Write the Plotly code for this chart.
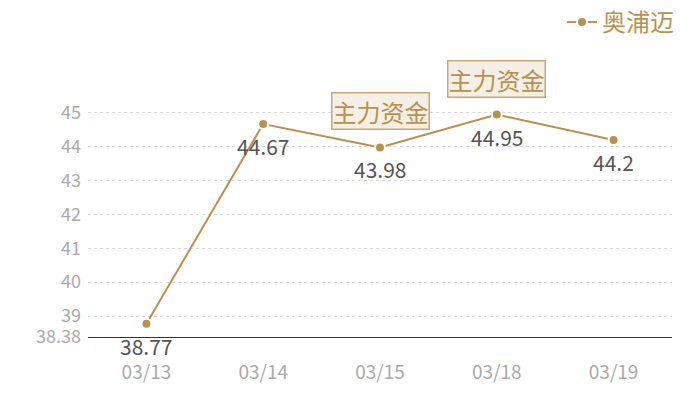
import plotly.graph_objects as go

dates = ["03/13", "03/14", "03/15", "03/18", "03/19"]
prices = [38.77, 44.67, 43.98, 44.95, 44.2]
flag_dates = ["03/15", "03/18"]
flag_text = "主力资金"
series_name = "奥浦迈"

y_min, y_max = 38.38, 45.38
y_ticks = [38.38, 39, 40, 41, 42, 43, 44, 45, 45.38]
y_labels = ["38.38", "39", "40", "41", "42", "43", "44", "45", ""]

GOLD = "#b8914f"
FONT = "Noto Sans CJK SC, Noto Sans, sans-serif"

fig = go.Figure()
fig.add_trace(go.Scatter(
    x=dates, y=prices, name=series_name,
    mode="lines+markers",
    line=dict(color=GOLD, width=2),
    marker=dict(color=GOLD, size=10, line=dict(color="white", width=2)),
    cliponaxis=False,
))

# value labels below each point
for d, v in zip(dates, prices):
    fig.add_annotation(
        x=d, y=v, text=str(v), showarrow=False,
        yanchor="top", yshift=-5,
        font=dict(color="#555555", size=21, family=FONT),
    )

for d in flag_dates:
    fig.add_annotation(
        x=d, y=prices[dates.index(d)], text=flag_text,
        showarrow=False, yanchor="bottom", yshift=17,
        font=dict(color=GOLD, size=24, family=FONT),
        bgcolor="#f5efe6", bordercolor="#c9a878", borderwidth=1.5, borderpad=0,
    )

fig.update_layout(
    width=700, height=400,
    margin=dict(l=88, r=28, t=100, b=63, autoexpand=False),
    paper_bgcolor="white", plot_bgcolor="white",
    font=dict(family=FONT),
    showlegend=True,
    legend=dict(
        x=0.97, y=1.0, xref="container", yref="container", xanchor="right", yanchor="top",
        font=dict(color=GOLD, size=24, family=FONT),
        itemwidth=30, bgcolor="rgba(0,0,0,0)",
    ),
    xaxis=dict(
        type="category", range=[-0.5, 4.5], automargin=False,
        showgrid=False, zeroline=False,
        showline=True, linecolor="#333333", linewidth=1,
        ticks="", tickfont=dict(color="#aaaaaa", size=19, family=FONT),
        ticklabelstandoff=18,
    ),
    yaxis=dict(
        range=[y_min, y_max], tickmode="array", automargin=False,
        tickvals=y_ticks, ticktext=y_labels,
        showgrid=True, gridcolor="#d9d9d9", griddash="dot", gridwidth=1,
        zeroline=False, showline=False, ticks="",
        tickfont=dict(color="#aaaaaa", size=18, family=FONT),
        ticklabelstandoff=6,
    ),
)

# drop the default body margin so the chart sits at the window's corner
fig.write_html(
    "out.html",
    config={"displayModeBar": False},
    post_script="document.body.style.margin='0';",
)
